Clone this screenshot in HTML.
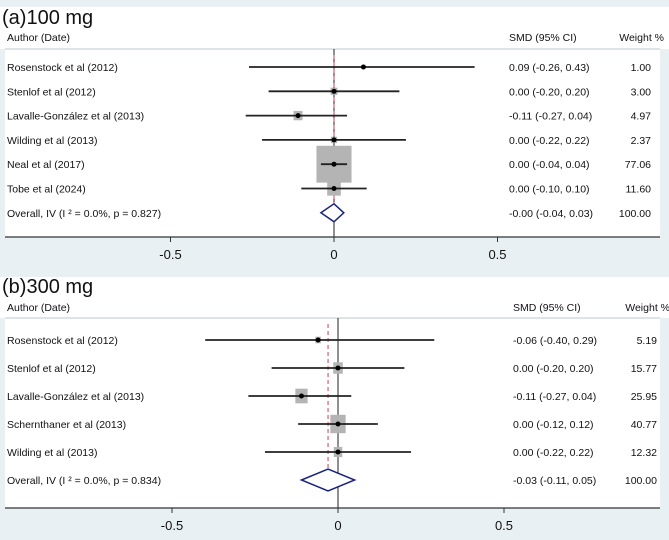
<!DOCTYPE html>
<html><head><meta charset="utf-8"><style>
html,body{margin:0;padding:0;background:#fff}
svg{display:block;font-family:"Liberation Sans",sans-serif}
</style></head><body>
<svg id="chart" width="669" height="540" viewBox="0 0 669 540"></svg>
<script>
// Panel (a) 100 mg data
const studiesA = ["Rosenstock et al (2012)","Stenlof et al (2012)","Lavalle-González et al (2013)","Wilding et al (2013)","Neal et al (2017)","Tobe et al (2024)"];
const smdA = [0.09,0.00,-0.11,0.00,0.00,0.00];
const lowA = [-0.26,-0.20,-0.27,-0.22,-0.04,-0.10];
const highA = [0.43,0.20,0.04,0.22,0.04,0.10];
const weightA = [1.00,3.00,4.97,2.37,77.06,11.60];
const overallA = [-0.00,-0.04,0.03];
const overallLabelA = "Overall, IV (I \u00B2 = 0.0%, p = 0.827)";
// Panel (b) 300 mg data
const studiesB = ["Rosenstock et al (2012)","Stenlof et al (2012)","Lavalle-González et al (2013)","Schernthaner et al (2013)","Wilding et al (2013)"];
const smdB = [-0.06,0.00,-0.11,0.00,0.00];
const lowB = [-0.40,-0.20,-0.27,-0.12,-0.22];
const highB = [0.29,0.20,0.04,0.12,0.22];
const weightB = [5.19,15.77,25.95,40.77,12.32];
const overallB = [-0.03,-0.11,0.05];
const overallLabelB = "Overall, IV (I \u00B2 = 0.0%, p = 0.834)";
const ticks = [-0.5,0,0.5];
const tickLabels = ["-0.5","0","0.5"];

const svg = document.getElementById('chart');
const NS = 'http://www.w3.org/2000/svg';
function mk(tag, attrs, parent){const e=document.createElementNS(NS,tag);for(const k in attrs)e.setAttribute(k,attrs[k]);(parent||svg).appendChild(e);return e;}
function fmt(v){let s=Math.abs(v).toFixed(2);return (v<0||Object.is(v,-0)?'-':'')+s;}
function txt(x,y,s,size,anchor,name,parent){const t=mk('text',{x:x,y:y,'font-size':size,'text-anchor':anchor||'start',fill:'#111'},parent);t.textContent=s;return t;}

function panel(cfg){
  const g = mk('g',{});
  
  
  const x = v => cfg.x0 + v*cfg.scale;
  const bg = mk('rect',{x:0,y:cfg.bgTop,width:669,height:cfg.bgBottom-cfg.bgTop,fill:'#e9f0f3'},g);
  
  
  const wb = mk('rect',{x:5,y:cfg.whiteTop,width:655,height:cfg.axisY-cfg.whiteTop,fill:'#fff'},g);
  
  
  mk('rect',{x:0,y:cfg.whiteTop,width:669,height:cfg.sepY-cfg.whiteTop,fill:'#fff'},g);
  txt(2,cfg.titleY,cfg.title,20,'start','panel-title',g);
  txt(7,cfg.headY,'Author (Date)',10.5,'start','author-header',g);
  txt(cfg.smdX,cfg.headY,'SMD (95% CI)',10.5,'start','smd-header',g);
  txt(cfg.wX+13,cfg.headY,'Weight %',10.5,'end','weight-header',g);
  const sep = mk('line',{x1:5,x2:660,y1:cfg.sepY,y2:cfg.sepY,stroke:'#dde3e6','stroke-width':2},g);
  
  
  const zl = mk('line',{x1:x(0),x2:x(0),y1:cfg.sepY,y2:cfg.axisY,stroke:'#222','stroke-width':1},g);
  
  
  const dl = mk('line',{x1:x(cfg.overall[0]),x2:x(cfg.overall[0]),y1:cfg.sepY+6,y2:cfg.rowY(cfg.studies.length)+10,stroke:'#d04050','stroke-width':1,'stroke-dasharray':'4,3'},g);
  
  
  cfg.studies.forEach((s,i)=>{
    const y = cfg.rowY(i);
    txt(7,y+4,s,10.5,'start','study-label',g);
    txt(cfg.smdX,y+4,fmt(cfg.smd[i])+' ('+fmt(cfg.low[i])+', '+fmt(cfg.high[i])+')',10.5,'start','study-ci-text',g);
    txt(cfg.wX,y+4,cfg.weight[i].toFixed(2),10.5,'end','study-weight',g);
    const w = cfg.k*Math.sqrt(cfg.weight[i]), h = w*cfg.ratio;
    const b = mk('rect',{x:x(cfg.smd[i])-w/2,y:y-h/2,width:w,height:h,fill:'#b4b4b4'},g);
    
    
    const l = mk('line',{x1:x(cfg.low[i]),x2:x(cfg.high[i]),y1:y,y2:y,stroke:'#222','stroke-width':1.8},g);
    
    
    const p = mk('circle',{cx:x(cfg.smd[i]),cy:y,r:2.5,fill:'#000'},g);
    
    
  });
  const oy = cfg.rowY(cfg.studies.length);
  txt(7,oy+4,cfg.overallLabel,10.5,'start','overall-label',g);
  txt(cfg.smdX,oy+4,fmt(cfg.overall[0])+' ('+fmt(cfg.overall[1])+', '+fmt(cfg.overall[2])+')',10.5,'start','overall-ci-text',g);
  txt(cfg.wX,oy+4,'100.00',10.5,'end','overall-weight',g);
  const dh = cfg.dh;
  const d = mk('polygon',{points:[x(cfg.overall[1])+','+oy, x(cfg.overall[0])+','+(oy-dh), x(cfg.overall[2])+','+oy, x(cfg.overall[0])+','+(oy+dh)].join(' '),fill:'#fff',stroke:'#1a237e','stroke-width':1.5},g);
  
  
  const ax = mk('line',{x1:5,x2:660,y1:cfg.axisY,y2:cfg.axisY,stroke:'#333','stroke-width':1.2},g);
  
  
  ticks.forEach((t,i)=>{
    const tk = mk('line',{x1:x(t),x2:x(t),y1:cfg.axisY,y2:cfg.axisY+5,stroke:'#333'},g);
    
    
    txt(x(t),cfg.axisY+22,tickLabels[i],13,'middle','x-tick-label',g);
  });
}
panel({name:'panel-a-100mg',title:'(a)100 mg',bgTop:0,bgBottom:277,whiteTop:7,titleY:24,headY:41,sepY:49,axisY:237,
  x0:334,scale:327,rowY:i=>67+i*24.3,smdX:509,wX:651,k:4,ratio:1.05,dh:9,
  studies:studiesA,smd:smdA,low:lowA,high:highA,weight:weightA,overall:overallA,overallLabel:overallLabelA});
panel({name:'panel-b-300mg',title:'(b)300 mg',bgTop:277,bgBottom:540,whiteTop:277,titleY:293,headY:311,sepY:318,axisY:508,
  x0:338,scale:332,rowY:i=>340+i*28,smdX:513,wX:657,k:2.4,ratio:1.2,dh:11,
  studies:studiesB,smd:smdB,low:lowB,high:highB,weight:weightB,overall:overallB,overallLabel:overallLabelB});
</script>
</body></html>
